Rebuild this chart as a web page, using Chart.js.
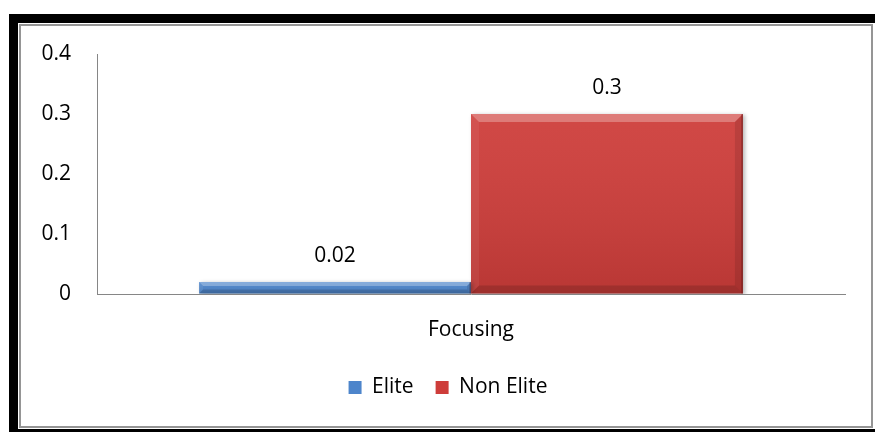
<!DOCTYPE html>
<html>
<head>
<meta charset="utf-8">
<script src="https://cdn.jsdelivr.net/npm/chart.js@4.4.1/dist/chart.umd.min.js"></script>
<style>
  html,body{margin:0;padding:0;background:#fff;overflow:hidden}
  body{width:875px;height:432px;position:relative}
  .outer{position:absolute;left:9px;top:14px;width:880px;height:406px;border:9px solid #000}
  .inner{position:absolute;left:19px;top:24px;width:850px;height:400px;border:2px solid #959595}
  #chart{position:absolute;left:21px;top:26px}
</style>
</head>
<body>
<div class="outer"></div>
<div class="inner"></div>
<canvas id="chart" width="850" height="400"></canvas>
<script>
// chart values
const categories = ["Focusing"];
const eliteVals    = [0.02];
const nonEliteVals = [0.3];
const yTicks = [0, 0.1, 0.2, 0.3, 0.4];

const FONT = "'Open Sans', sans-serif";
const FSIZE = 21;
const AXIS_GRAY = "#868686";
const LEGEND_SHIFT = 15;

// bevel + shading over each bar, like an office-style 3D bar
const bevelPlugin = {
  id: "bevel",
  beforeDatasetDraw(chart) {
    const c = chart.ctx;
    c.save();
    c.shadowColor = "rgba(0,0,0,0.28)";
    c.shadowBlur = 4;
    c.shadowOffsetX = 2;
    c.shadowOffsetY = 1;
  },
  afterDatasetDraw(chart) { chart.ctx.restore(); },
  afterDatasetsDraw(chart) {
    const c = chart.ctx;
    chart.data.datasets.forEach((ds, i) => {
      chart.getDatasetMeta(i).data.forEach(bar => {
        const l = bar.x - bar.width/2, r = bar.x + bar.width/2;
        const t = bar.y, b = bar.base, h = b - t;
        const bv = Math.min(8, h*0.35);
        c.save();
        const g = c.createLinearGradient(0, t, 0, b);
        g.addColorStop(0, "rgba(255,255,255,0.06)");
        g.addColorStop(1, "rgba(0,0,0,0.10)");
        c.fillStyle = g;
        c.fillRect(l, t, r-l, h);
        const poly = (pts, col) => {
          c.beginPath(); c.moveTo(pts[0][0], pts[0][1]);
          pts.slice(1).forEach(p => c.lineTo(p[0], p[1]));
          c.closePath(); c.fillStyle = col; c.fill();
        };
        poly([[l,t],[r,t],[r-bv,t+bv],[l+bv,t+bv]], "rgba(255,255,255,0.28)");
        poly([[l,t],[l+bv,t+bv],[l+bv,b-bv],[l,b]], "rgba(255,255,255,0.06)");
        poly([[r,t],[r,b],[r-bv,b-bv],[r-bv,t+bv]], "rgba(0,0,0,0.10)");
        poly([[l,b],[l+bv,b-bv],[r-bv,b-bv],[r,b]], "rgba(0,0,0,0.14)");
        c.fillStyle = "rgba(60,0,0,0.35)";
        c.fillRect(r-1.5, t, 1.5, h);
        c.restore();
      });
    });
  }
};

// value text above each bar
const valueLabels = {
  id: "valueLabels",
  afterDatasetsDraw(chart) {
    const c = chart.ctx;
    c.save();
    c.font = FSIZE + "px " + FONT;
    c.fillStyle = "#000";
    c.textAlign = "center";
    c.textBaseline = "middle";
    chart.data.datasets.forEach((ds, i) => {
      chart.getDatasetMeta(i).data.forEach((bar, j) => {
        c.fillText(String(ds.data[j]), bar.x, bar.y - 26);
      });
    });
    c.restore();
  }
};

// nudge the legend a little right of the canvas centre
const legendNudge = {
  id: "legendNudge",
  afterLayout(chart) {
    if (!chart.legend) return;
    chart.legend.left += LEGEND_SHIFT;
    chart.legend.right += LEGEND_SHIFT;
  }
};

new Chart(document.getElementById("chart"), {
  type: "bar",
  data: {
    labels: categories,
    datasets: [
      {label: "Elite",     data: eliteVals,    backgroundColor: "#4D85CB", borderWidth: 0},
      {label: "Non Elite", data: nonEliteVals, backgroundColor: "#CE3D3A", borderWidth: 0}
    ]
  },
  options: {
    responsive: false,
    animation: false,
    layout: {padding: {left: 0, right: 26, top: 28, bottom: 18}},
    datasets: {bar: {categoryPercentage: 0.727, barPercentage: 1}},
    plugins: {
      legend: {
        position: "bottom",
        labels: {font: {family: FONT, size: FSIZE}, color: "#000", boxWidth: 13, boxHeight: 13, padding: 22}
      },
      tooltip: {enabled: false}
    },
    scales: {
      x: {
        grid: {display: false, drawTicks: false},
        border: {color: AXIS_GRAY, width: 1},
        ticks: {font: {family: FONT, size: FSIZE}, color: "#000", padding: 23},
        afterFit: s => { s.height = 61; }
      },
      y: {
        min: yTicks[0], max: yTicks[yTicks.length-1],
        // invisible tick marks keep the labels away from the axis line
        grid: {display: true, drawOnChartArea: false, drawTicks: true, tickLength: 26, tickColor: "transparent"},
        border: {color: AXIS_GRAY, width: 1},
        ticks: {stepSize: 0.1, font: {family: FONT, size: FSIZE}, color: "#000", padding: 0},
        afterBuildTicks: s => { s.ticks = yTicks.map(v => ({value: v})); },
        afterFit: s => { s.width = 76; }
      }
    }
  },
  plugins: [bevelPlugin, valueLabels, legendNudge]
});
</script>
</body>
</html>
